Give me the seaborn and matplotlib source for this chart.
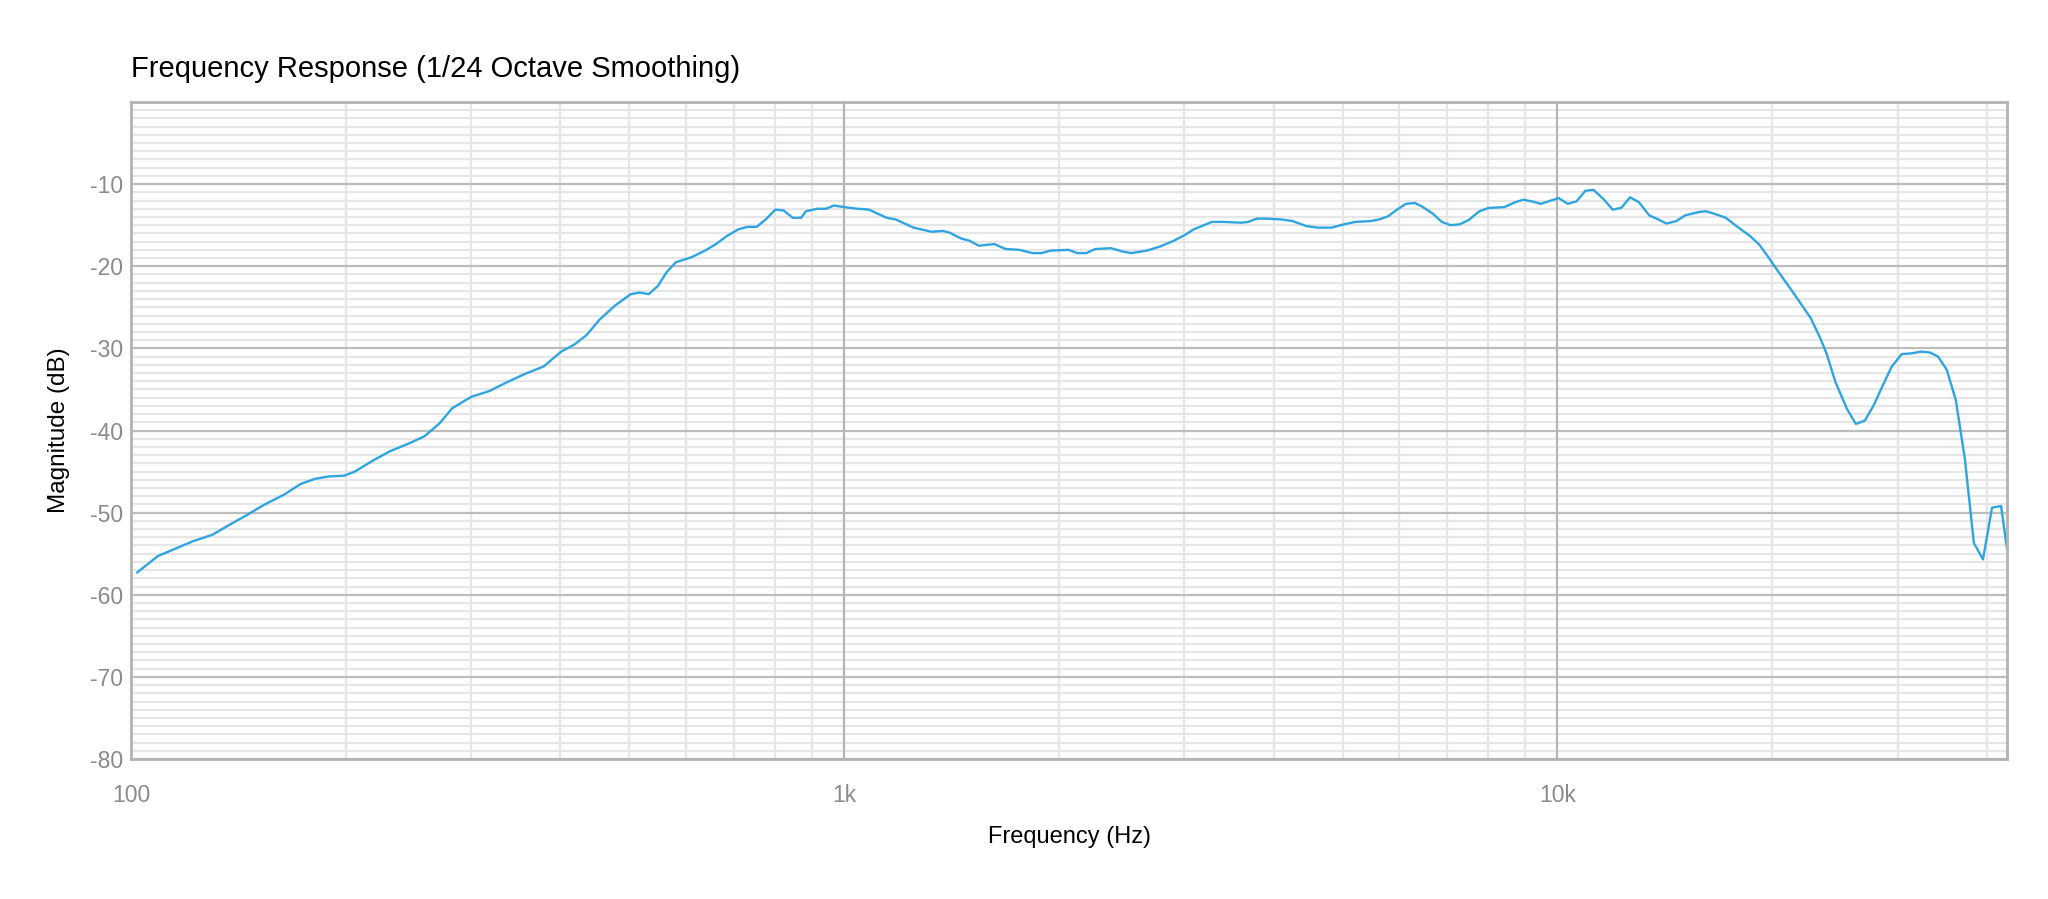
import numpy as np
import pandas as pd
import matplotlib.pyplot as plt
import seaborn as sns
from matplotlib.ticker import FixedLocator, NullFormatter

# values
freq_hz = [102, 109, 116, 122, 130, 138, 146, 154, 164, 173, 181, 189, 199, 206,
           218, 231, 245, 258, 271, 282, 300, 318, 337, 357, 379, 401, 419, 435,
           454, 477, 502, 517, 532, 548, 564, 581, 611, 638, 661, 685, 711, 732,
           754, 776, 801, 822, 847, 870, 884, 917, 944, 967, 1000, 1044, 1083,
           1147, 1181, 1251, 1326, 1375, 1405, 1457, 1499, 1544, 1624, 1684,
           1759, 1838, 1891, 1947, 2063, 2123, 2185, 2250, 2366, 2454, 2526,
           2654, 2773, 2897, 3003, 3092, 3277, 3398, 3604, 3683, 3790, 3900,
           4101, 4253, 4443, 4611, 4821, 5019, 5209, 5470, 5628, 5792, 5960,
           6133, 6312, 6451, 6690, 6885, 7085, 7290, 7502, 7776, 8005, 8425,
           8733, 8951, 9212, 9480, 9800, 10043, 10338, 10639, 10948, 11237,
           11599, 11955, 12291, 12645, 13011, 13451, 13851, 14218, 14681,
           15114, 15790, 16141, 16587, 17227, 17823, 18610, 19162, 19729,
           20309, 21211, 22003, 22653, 23323, 23844, 24542, 25450, 26207,
           26983, 27780, 28598, 29441, 30393, 31405, 32337, 33300, 34181,
           35151, 36198, 37274, 38370, 39510, 40685, 41892, 42700]
mag_db = [-57.3, -55.3, -54.3, -53.5, -52.7, -51.4, -50.2, -49.0, -47.8, -46.5,
          -45.9, -45.6, -45.5, -45.0, -43.7, -42.5, -41.6, -40.7, -39.1, -37.3,
          -35.9, -35.2, -34.1, -33.1, -32.2, -30.4, -29.5, -28.4, -26.5, -24.8,
          -23.4, -23.2, -23.4, -22.4, -20.7, -19.5, -18.9, -18.1, -17.3, -16.3,
          -15.5, -15.2, -15.2, -14.3, -13.1, -13.2, -14.1, -14.1, -13.3, -13.0,
          -13.0, -12.6, -12.8, -13.0, -13.1, -14.1, -14.3, -15.3, -15.8, -15.7,
          -15.9, -16.6, -16.9, -17.5, -17.3, -17.9, -18.0, -18.4, -18.4, -18.1,
          -18.0, -18.4, -18.4, -17.9, -17.8, -18.2, -18.4, -18.1, -17.6, -16.9,
          -16.2, -15.5, -14.6, -14.6, -14.7, -14.6, -14.2, -14.2, -14.3, -14.5,
          -15.1, -15.3, -15.3, -14.9, -14.6, -14.5, -14.3, -13.9, -13.1, -12.4,
          -12.3, -12.7, -13.6, -14.6, -15.0, -14.9, -14.4, -13.3, -12.9, -12.8,
          -12.2, -11.9, -12.1, -12.4, -12.0, -11.7, -12.4, -12.1, -10.8, -10.7,
          -11.8, -13.1, -12.9, -11.6, -12.2, -13.8, -14.3, -14.8, -14.5, -13.8,
          -13.4, -13.3, -13.6, -14.1, -15.1, -16.3, -17.3, -18.8, -20.4, -22.7,
          -24.7, -26.3, -28.6, -30.6, -34.1, -37.3, -39.2, -38.8, -36.9, -34.5,
          -32.2, -30.7, -30.6, -30.4, -30.5, -31.0, -32.6, -36.3, -43.5, -53.7,
          -55.7, -49.4, -49.2, -54.4]

x_ticks = [100, 1000, 10000]
x_tick_labels = ["100", "1k", "10k"]
y_ticks = [-80, -70, -60, -50, -40, -30, -20, -10]

df = pd.DataFrame({"freq": freq_hz, "mag": mag_db})

sns.set_style("white")
plt.rcParams['font.family'] = ['Liberation Sans', 'DejaVu Sans']
plt.rcParams['axes.unicode_minus'] = False

fig = plt.figure(figsize=(20.48, 8.99), dpi=100)
ax = fig.add_axes([131 / 2048, 1 - 759 / 899, (2007 - 131) / 2048, (759 - 102) / 899])

sns.lineplot(data=df, x="freq", y="mag", color="#2ea5e0", linewidth=1.7, ax=ax)

ax.set_xscale("log")
ax.set_xlim(100, 42700)
ax.set_ylim(-80, 0)

ax.xaxis.set_major_locator(FixedLocator(x_ticks))
ax.set_xticklabels(x_tick_labels)
minor_x = [m * d for d in [100, 1000, 10000] for m in range(2, 10)]
ax.xaxis.set_minor_locator(FixedLocator(minor_x))
ax.xaxis.set_minor_formatter(NullFormatter())
ax.set_yticks(y_ticks)
ax.yaxis.set_minor_locator(FixedLocator(list(range(-80, 1))))

ax.grid(which="minor", color="#e6e6e6", linewidth=1.6)
ax.grid(which="major", axis="y", color="#bdbdbd", linewidth=1.6)
ax.set_axisbelow(True)
# decade lines on top of the 1 dB lines, like the original
for xt in x_ticks[1:]:
    ax.axvline(xt, color="#b5b5b5", linewidth=1.6, zorder=0.8)

ax.tick_params(which="both", length=0, labelsize=16.5, labelcolor="#8a8a8a")
ax.tick_params(axis="x", pad=18)
ax.tick_params(axis="y", pad=6)

for s in ax.spines.values():
    s.set_color("#b3b3b3")
    s.set_linewidth(2)

ax.set_xlabel("Frequency (Hz)", fontsize=17, color="black", labelpad=14)
ax.set_ylabel("Magnitude (dB)", fontsize=17.5, color="black", labelpad=14)

fig.text(131 / 2048, 1 - 77 / 899, "Frequency Response (1/24 Octave Smoothing)",
         fontsize=21, color="black", va="baseline", ha="left")

fig.savefig("out.png", dpi=100)
